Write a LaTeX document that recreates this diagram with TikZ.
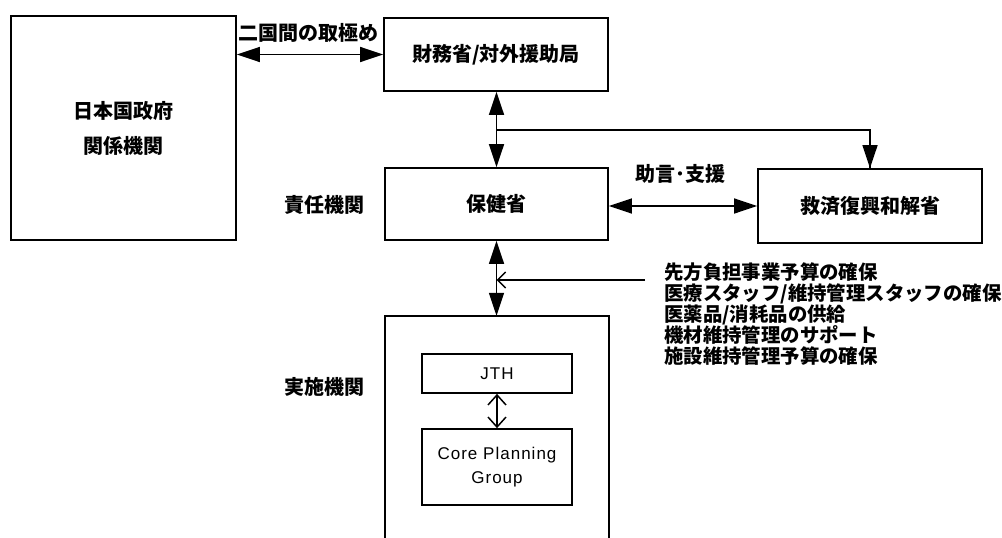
\documentclass[tikz,border=0pt]{standalone}
\usepackage{fontspec}
\setmainfont{Liberation Sans}
\newfontfamily\jp{Noto Sans CJK JP}
\newfontfamily\lat{Liberation Sans}[LetterSpace=6]
\newcommand\mylistfont{\jp\bfseries\fontsize{19.4}{20.9}\selectfont\lineskiplimit=-100pt\lineskip=0pt\relax}
\usetikzlibrary{arrows.meta}
\begin{document}
\begin{tikzpicture}[x=1pt,y=-1pt,
  box/.style={draw, line width=1.7pt, rectangle, inner sep=0pt, align=center,
    font=\jp\bfseries\fontsize{20}{35}\selectfont},
  lbl/.style={inner sep=0pt, font=\jp\bfseries\fontsize{20}{20.7}\selectfont},
  big/.style={line width=1.5pt, {Triangle[length=23pt,width=15pt]}-{Triangle[length=23pt,width=15pt]}},
  onehead/.style={line width=1.5pt, -{Triangle[length=23pt,width=15pt]}},
  barb/.style={line width=1.5pt, {Straight Barb[length=10pt,width=18pt]}-{Straight Barb[length=10pt,width=18pt]}}
]
\useasboundingbox (0,0) rectangle (1002,538);

\node[box, minimum width=225pt, minimum height=224pt] (jp) at (123.5,128) {日本国政府\\関係機関};
\node[box, minimum width=224pt, minimum height=73pt] (mof) at (496,54.5) {財務省/対外援助局};
\node[box, minimum width=223pt, minimum height=72pt] (moh) at (496.5,204) {保健省};
\node[box, minimum width=224pt, minimum height=74pt] (rel) at (870,206) {救済復興和解省};
\node[minimum width=224pt, minimum height=222pt, inner sep=0pt] (impl) at (497,427) {};
\draw[line width=1.7pt] (impl.south west) -- (impl.north west) -- (impl.north east) -- (impl.south east);
\node[box, minimum width=150pt, minimum height=39pt, font=\lat\fontsize{17}{24}\selectfont] (jth) at (497,373.5) {JTH};
\node[box, minimum width=150pt, minimum height=76pt, font=\lat\fontsize{17}{24}\selectfont] (core) at (497,467) {Core Planning\\Group};

\node[lbl] (bil) at (308,33) {二国間の取極め};
\node[lbl] (adv) at (680,174) {助言･支援};
\node[lbl] (resp) at (324,205) {責任機関};
\node[lbl] (exe) at (324,387) {実施機関};
\node[lbl, anchor=north west, align=left, font=\mylistfont] (list) at (664,263) {先方負担事業予算の確保\\医療スタッフ/維持管理スタッフの確保\\医薬品/消耗品の供給\\機材維持管理のサポート\\施設維持管理予算の確保};

\draw[big] (jp.east |- mof.center) -- (mof.west);
\draw[big] (mof.south -| moh.north) -- (moh.north);
\coordinate (br) at (496.5,130);
\draw[line width=1.5pt] (br) -| (rel.north);
\draw[onehead] (br -| rel.north) -- (rel.north);
\draw[big] (moh.east |- rel.west) -- (rel.west);
\draw[big] (moh.south) -- (moh.south |- impl.north);
\coordinate (fs) at (645,280);
\draw[line width=1.5pt, -{Straight Barb[length=8pt,width=16pt]}] (fs) -- (fs -| moh.south);
\draw[barb] (jth.south) -- (core.north);
\end{tikzpicture}
\end{document}
